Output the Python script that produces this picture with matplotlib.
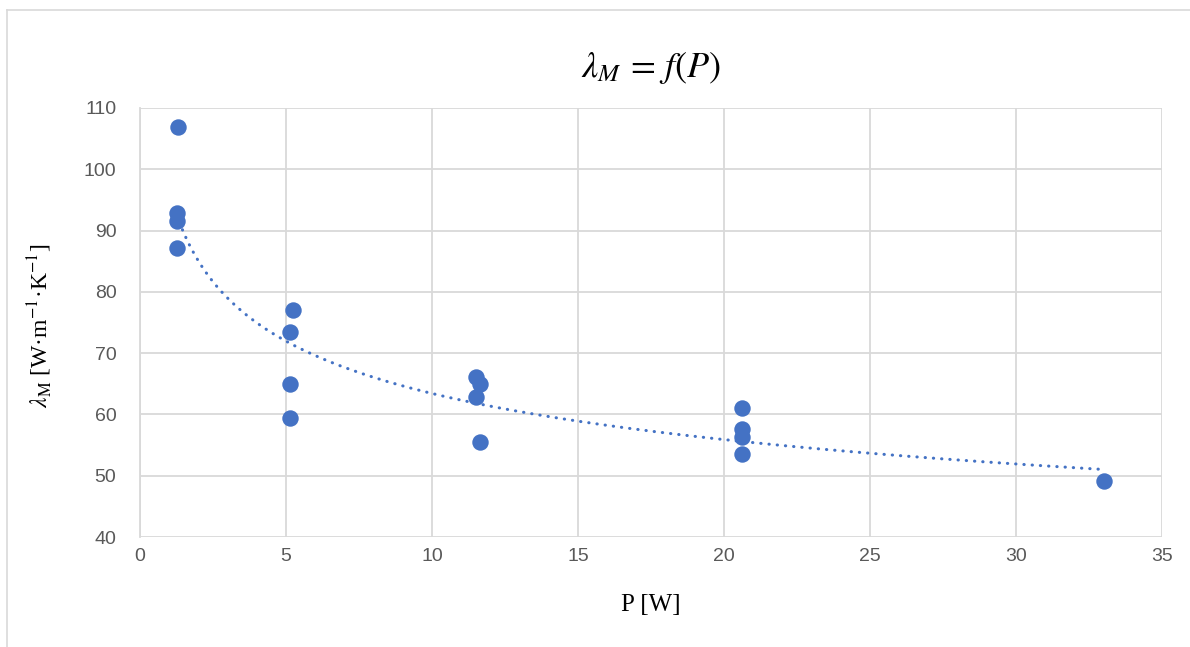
import numpy as np
import matplotlib
matplotlib.use("Agg")
import matplotlib.pyplot as plt
from matplotlib.lines import Line2D

# Data
power_w = [1.30, 1.25, 1.25, 1.25, 5.25, 5.15, 5.15, 5.15,
           11.5, 11.65, 11.5, 11.65, 20.6, 20.6, 20.6, 20.6, 33.0]
lambda_m = [106.9, 92.9, 91.5, 87.2, 77.0, 73.4, 64.9, 59.4,
            66.1, 65.0, 62.9, 55.5, 61.1, 57.7, 56.3, 53.6, 49.2]

x_ticks = [0, 5, 10, 15, 20, 25, 30, 35]
y_ticks = [40, 50, 60, 70, 80, 90, 100, 110]

blue = "#4472C4"
grid_c = "#D9D9D9"

plt.rcParams["mathtext.fontset"] = "stix"

W, H = 1190, 647
fig = plt.figure(figsize=(W/100, H/100), dpi=100)
# outer chart-area border (top and left edges visible)
fig.add_artist(Line2D([7/W, 7/W], [0, 1-10/H], transform=fig.transFigure,
                      color=grid_c, linewidth=1.2))
fig.add_artist(Line2D([7/W, 1], [1-10/H, 1-10/H], transform=fig.transFigure,
                      color=grid_c, linewidth=1.2))

ax = fig.add_axes([140/W, 1-537/H, (1162-140)/W, (537-108)/H])

# power trendline fitted from the data
x = np.array(power_w); y = np.array(lambda_m)
b, ln_a = np.polyfit(np.log(x), np.log(y), 1)
xt = np.linspace(x.min(), x.max(), 300)
yt = np.exp(ln_a) * xt ** b
ax.plot(xt, yt, color=blue, linewidth=2.2, linestyle=(0, (0.1, 2.6)),
        dash_capstyle="round", zorder=2)

ax.scatter(power_w, lambda_m, s=140, color=blue, zorder=3, linewidths=0)

ax.set_xlim(0, 35)
ax.set_ylim(40, 110)
ax.set_xticks(x_ticks)
ax.set_yticks(y_ticks)
ax.grid(True, color=grid_c, linewidth=1.3)
ax.set_axisbelow(True)
for s in ax.spines.values():
    s.set_visible(False)
ax.spines["left"].set_visible(True)
ax.spines["left"].set_color(grid_c)
ax.spines["left"].set_linewidth(1.3)
ax.tick_params(axis="y", length=0, labelsize=14, labelcolor="#595959", pad=17)
ax.tick_params(axis="x", length=0, labelsize=14, labelcolor="#595959", pad=8)
for lab in ax.get_xticklabels() + ax.get_yticklabels():
    lab.set_family("Liberation Sans")

ax.text(0.5, (537-68)/429, r"$\lambda_M\,=\,f(P)$", transform=ax.transAxes,
        ha="center", va="center", fontsize=26, color="black")

ax.set_xlabel("P [W]", fontsize=18, family="Liberation Serif")
ax.xaxis.set_label_coords(0.5, (537-605)/429)
ax.xaxis.label.set_va("center")

ax.set_ylabel(r"$\lambda_{\mathrm{M}}$ [W·m$^{\mathrm{-1}}$·K$^{\mathrm{-1}}$]",
              fontsize=17, family="Liberation Serif")
ax.yaxis.set_label_coords((40-140)/1022, (537-326)/429)
ax.yaxis.label.set_va("center")
ax.yaxis.label.set_ha("center")

fig.savefig("out.png", dpi=100)
